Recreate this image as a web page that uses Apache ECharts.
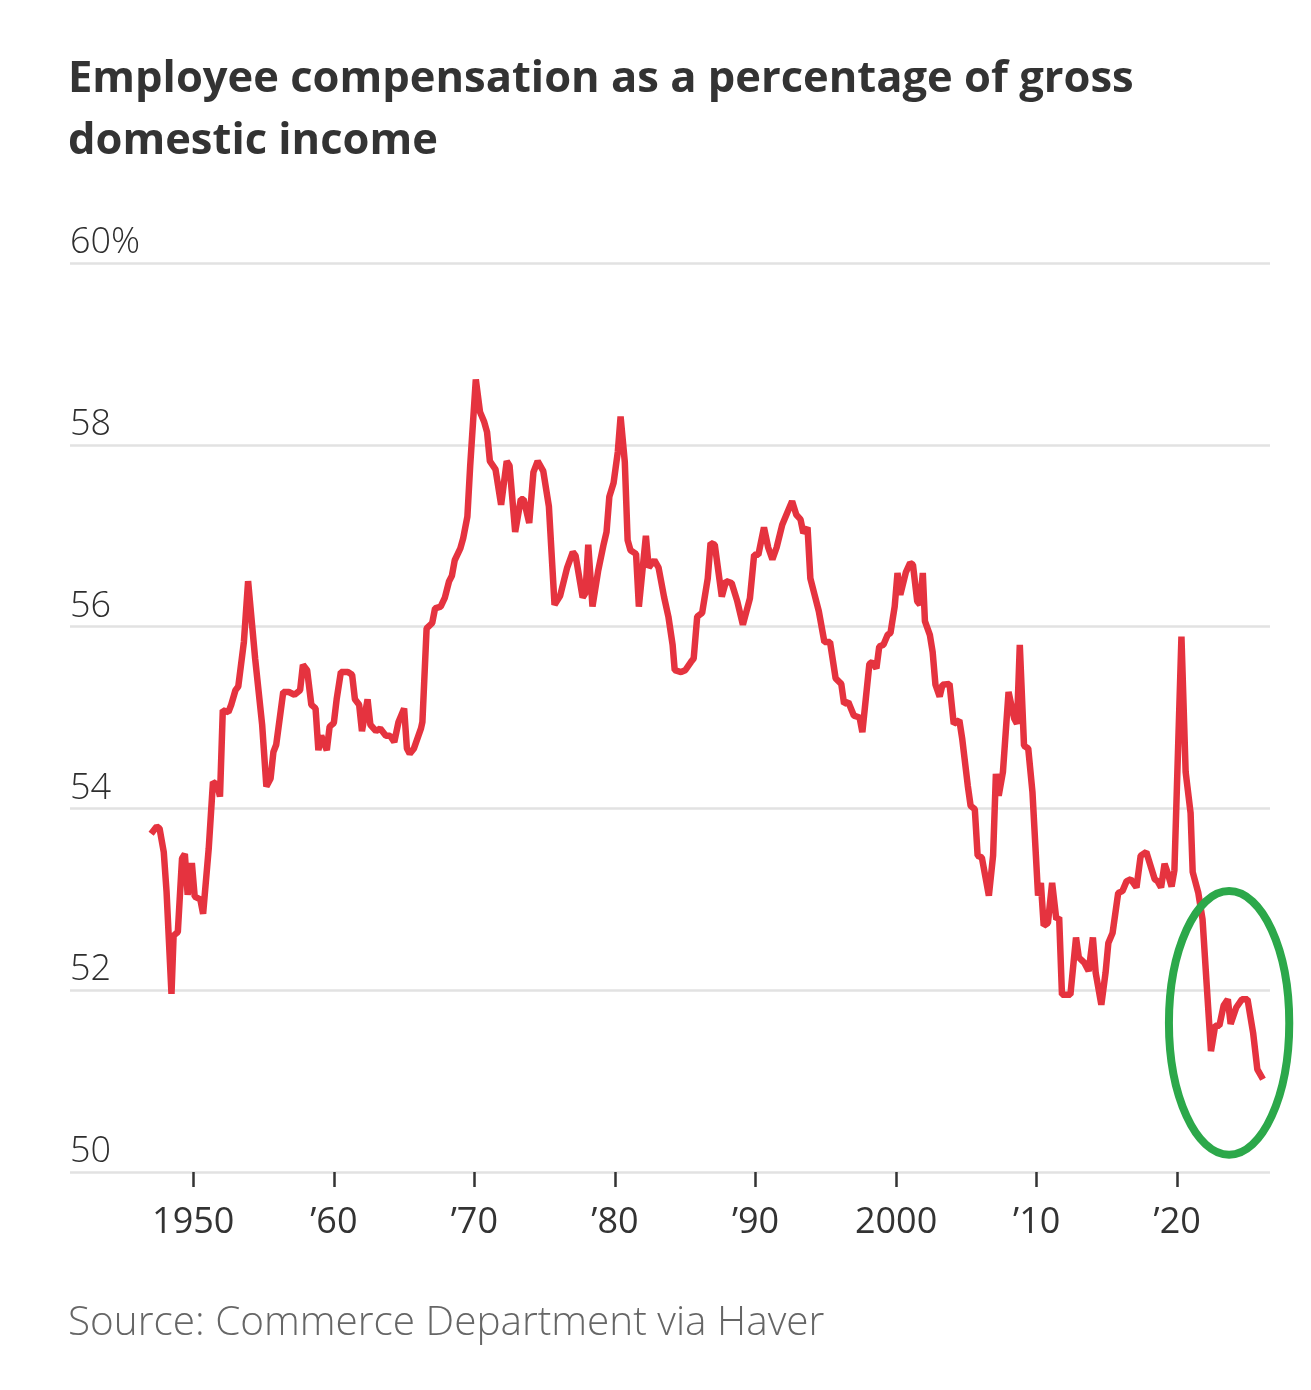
<!DOCTYPE html>
<html>
<head>
<meta charset="utf-8">
<script src="https://cdn.jsdelivr.net/npm/echarts@6/dist/echarts.min.js"></script>
<style>
  html, body { margin: 0; padding: 0; background: #fff; }
  #chart { width: 1311px; height: 1390px; }
</style>
</head>
<body>
<div id="chart"></div>
<script>
// quarterly points: position in years, share of GDI in %
const years = [
  1947.0, 1947.4, 1947.6, 1947.9, 1948.1, 1948.45, 1948.6, 1948.9, 1949.2, 1949.4,
  1949.6, 1949.9, 1950.1, 1950.5, 1950.7, 1951.1, 1951.4, 1951.7, 1951.9, 1952.1,
  1952.5, 1952.7, 1953.0, 1953.2, 1953.6, 1953.9, 1954.4, 1954.9, 1955.2, 1955.5,
  1955.7, 1955.9, 1956.4, 1956.8, 1957.2, 1957.6, 1957.8, 1958.1, 1958.4, 1958.7,
  1958.9, 1959.1, 1959.5, 1959.7, 1960.0, 1960.2, 1960.5, 1961.0, 1961.3, 1961.5,
  1961.8, 1962.0, 1962.4, 1962.6, 1963.0, 1963.3, 1963.7, 1964.0, 1964.3, 1964.6,
  1965.0, 1965.2, 1965.4, 1965.7, 1966.2, 1966.3, 1966.6, 1967.0, 1967.2, 1967.6,
  1967.9, 1968.2, 1968.4, 1968.6, 1969.0, 1969.2, 1969.5, 1969.7, 1970.1, 1970.4,
  1970.7, 1970.9, 1971.1, 1971.5, 1971.9, 1972.3, 1972.5, 1972.9, 1973.3, 1973.5,
  1973.9, 1974.2, 1974.5, 1974.9, 1975.3, 1975.7, 1976.1, 1976.6, 1977.0, 1977.2,
  1977.7, 1977.9, 1978.1, 1978.4, 1978.8, 1979.2, 1979.4, 1979.6, 1979.9, 1980.2,
  1980.4, 1980.7, 1980.9, 1981.1, 1981.5, 1981.7, 1982.2, 1982.4, 1982.8, 1983.1,
  1983.5, 1983.8, 1984.1, 1984.25, 1984.7, 1985.0, 1985.4, 1985.6, 1985.85, 1986.2,
  1986.6, 1986.8, 1987.1, 1987.6, 1987.9, 1988.3, 1988.7, 1989.1, 1989.6, 1989.9,
  1990.2, 1990.6, 1990.9, 1991.2, 1991.5, 1991.9, 1992.3, 1992.6, 1992.9, 1993.2,
  1993.4, 1993.7, 1993.9, 1994.2, 1994.5, 1994.9, 1995.3, 1995.7, 1996.1, 1996.3,
  1996.6, 1997.0, 1997.4, 1997.6, 1998.1, 1998.3, 1998.6, 1998.8, 1999.1, 1999.4,
  1999.6, 1999.9, 2000.1, 2000.3, 2000.7, 2001.0, 2001.2, 2001.5, 2001.7, 2001.9,
  2002.05, 2002.4, 2002.6, 2002.8, 2003.1, 2003.3, 2003.8, 2004.1, 2004.5, 2004.7,
  2005.1, 2005.3, 2005.6, 2005.8, 2006.1, 2006.6, 2006.9, 2007.1, 2007.3, 2007.6,
  2008.0, 2008.4, 2008.6, 2008.8, 2009.1, 2009.4, 2009.7, 2010.1, 2010.3, 2010.5,
  2010.8, 2011.1, 2011.4, 2011.6, 2011.8, 2012.4, 2012.8, 2013.0, 2013.4, 2013.7,
  2014.0, 2014.2, 2014.6, 2014.9, 2015.1, 2015.4, 2015.8, 2016.1, 2016.4, 2016.7,
  2017.1, 2017.4, 2017.8, 2018.1, 2018.4, 2018.6, 2018.85, 2019.1, 2019.3, 2019.6,
  2019.8, 2020.3, 2020.6, 2020.95, 2021.1, 2021.5, 2021.8, 2022.1, 2022.4, 2022.7,
  2023.0, 2023.3, 2023.6, 2023.8, 2024.2, 2024.6, 2025.0, 2025.4, 2025.7, 2026.1
];
const shares = [
  53.72, 53.80, 53.78, 53.52, 53.08, 51.96, 52.60, 52.64, 53.45, 53.50,
  53.05, 53.40, 53.03, 53.00, 52.84, 53.56, 54.29, 54.26, 54.13, 55.08,
  55.06, 55.14, 55.30, 55.34, 55.83, 56.50, 55.65, 54.92, 54.24, 54.33,
  54.62, 54.70, 55.28, 55.28, 55.25, 55.30, 55.58, 55.52, 55.14, 55.10,
  54.64, 54.80, 54.64, 54.90, 54.94, 55.20, 55.50, 55.50, 55.47, 55.20,
  55.14, 54.85, 55.20, 54.92, 54.85, 54.88, 54.80, 54.80, 54.73, 54.95,
  55.10, 54.66, 54.60, 54.66, 54.88, 54.95, 55.98, 56.04, 56.20, 56.22,
  56.32, 56.50, 56.56, 56.73, 56.86, 56.97, 57.21, 57.77, 58.72, 58.36,
  58.25, 58.14, 57.82, 57.73, 57.34, 57.82, 57.77, 57.04, 57.40, 57.40,
  57.14, 57.70, 57.82, 57.71, 57.32, 56.24, 56.34, 56.65, 56.82, 56.78,
  56.32, 56.37, 56.90, 56.22, 56.61, 56.91, 57.04, 57.43, 57.58, 57.92,
  58.31, 57.81, 56.95, 56.84, 56.80, 56.22, 57.00, 56.65, 56.73, 56.65,
  56.32, 56.11, 55.80, 55.52, 55.50, 55.52, 55.61, 55.65, 56.11, 56.15,
  56.53, 56.92, 56.90, 56.33, 56.50, 56.48, 56.28, 56.02, 56.31, 56.79,
  56.79, 57.09, 56.87, 56.74, 56.87, 57.12, 57.27, 57.38, 57.23, 57.18,
  57.03, 57.09, 56.53, 56.35, 56.17, 55.83, 55.83, 55.43, 55.37, 55.15,
  55.17, 55.02, 55.00, 54.84, 55.59, 55.61, 55.54, 55.78, 55.80, 55.91,
  55.93, 56.22, 56.59, 56.35, 56.60, 56.70, 56.68, 56.28, 56.24, 56.59,
  56.06, 55.91, 55.72, 55.36, 55.23, 55.36, 55.37, 54.93, 54.97, 54.77,
  54.25, 54.03, 53.99, 53.48, 53.46, 53.04, 53.48, 54.38, 54.14, 54.40,
  55.28, 54.99, 54.93, 55.80, 54.69, 54.66, 54.18, 53.04, 53.18, 52.71,
  52.74, 53.18, 52.78, 52.80, 51.95, 51.95, 52.58, 52.36, 52.30, 52.21,
  52.58, 52.19, 51.84, 52.19, 52.52, 52.63, 53.07, 53.09, 53.20, 53.22,
  53.13, 53.48, 53.52, 53.37, 53.22, 53.20, 53.13, 53.39, 53.30, 53.14,
  53.32, 55.89, 54.40, 53.95, 53.30, 53.07, 52.78, 52.05, 51.33, 51.61,
  51.61, 51.83, 51.90, 51.63, 51.81, 51.90, 51.90, 51.53, 51.13, 51.02
];
const tickYears = [1950, 1960, 1970, 1980, 1990, 2000, 2010, 2020];
const tickLabels = ["1950", "\u201960", "\u201970", "\u201980", "\u201990", "2000", "\u201910", "\u201920"];
// hand-drawn ring around the latest readings, as data bounds [years], [values]
const ringYears = [2019.41, 2027.97];
const ringValues = [50.19, 53.09];

const chart = echarts.init(document.getElementById("chart"));

const sourceText = {
  type: "text",
  left: 68,
  top: 1303,
  style: {
    text: "Source: Commerce Department via Haver",
    fontFamily: "Open Sans",
    fontWeight: 300,
    fontSize: 40.5,
    fill: "#666",
  },
};

const option = {
  animation: false,
  backgroundColor: "#fff",
  title: {
    text: "Employee compensation as a percentage of gross\ndomestic income",
    left: 63,
    top: 44,
    textStyle: {
      fontFamily: "Open Sans",
      fontWeight: "bold",
      fontSize: 43.5,
      lineHeight: 62,
      color: "#333",
    },
  },
  grid: {
    left: 70,
    right: 41,
    top: 263,
    bottom: 218,
  },
  xAxis: {
    type: "value",
    min: 1941.23,
    max: 2026.6,
    axisLine: { show: false },
    splitLine: { show: false },
    axisTick: {
      show: true,
      customValues: tickYears,
      length: 15,
      lineStyle: { color: "#333", width: 2.5 },
    },
    axisLabel: {
      customValues: tickYears,
      formatter: (v) => tickLabels[tickYears.indexOf(v)],
      fontFamily: "Open Sans",
      fontSize: 36,
      color: "#333",
      margin: 33,
    },
  },
  yAxis: {
    type: "value",
    min: 50,
    max: 60,
    interval: 2,
    axisLine: { show: false },
    axisTick: { show: false },
    splitLine: {
      lineStyle: { color: "#e2e2e2", width: 2.5 },
    },
    axisLabel: {
      inside: true,
      margin: 0,
      verticalAlign: "bottom",
      padding: [0, 0, 2, 0],
      fontFamily: "Open Sans",
      fontWeight: 300,
      fontSize: 36,
      color: "#2e2e2e",
      formatter: (v) => (v === 60 ? "60%" : String(v)),
    },
  },
  series: [
    {
      type: "line",
      data: years.map((y, i) => [y, shares[i]]),
      showSymbol: false,
      silent: true,
      lineStyle: { color: "#e5333f", width: 6.5 },
      z: 2,
    },
  ],
  graphic: [sourceText],
};

chart.setOption(option);

const p0 = chart.convertToPixel({ gridIndex: 0 }, [ringYears[0], ringValues[0]]);
const p1 = chart.convertToPixel({ gridIndex: 0 }, [ringYears[1], ringValues[1]]);
chart.setOption({
  graphic: [
    sourceText,
    {
      type: "ellipse",
      shape: {
        cx: (p0[0] + p1[0]) / 2,
        cy: (p0[1] + p1[1]) / 2,
        rx: Math.abs(p1[0] - p0[0]) / 2,
        ry: Math.abs(p1[1] - p0[1]) / 2,
      },
      style: { fill: null, stroke: "#2ca84a", lineWidth: 8 },
      z: 10,
    },
  ],
});
</script>
</body>
</html>
